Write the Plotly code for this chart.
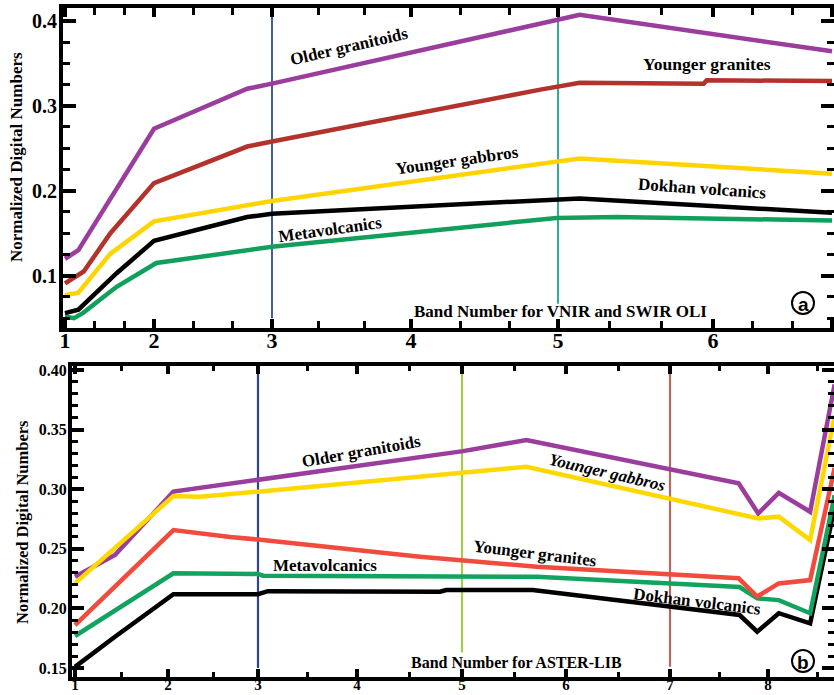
import numpy as np
import plotly.graph_objects as go

# ---------------- data: panel (a) Landsat OLI ----------------
band_ticks_a = [1, 2, 3, 4, 5, 6, 7]
band_tick_pos_a = [0.00, 0.89, 2.07, 3.46, 4.93, 6.48, 7.67]   # non-uniform band spacing on axis

older_granitoids_a_x = [1, 1.15, 2.0, 2.79, 3.0, 5.14, 7.0]
older_granitoids_a_y = [0.120, 0.130, 0.273, 0.320, 0.326, 0.407, 0.364]
younger_granites_a_x = [1, 1.21, 1.51, 2.0, 2.79, 3.0, 4.88, 5.14, 5.94, 5.96, 7.0]
younger_granites_a_y = [0.091, 0.105, 0.150, 0.209, 0.252, 0.258, 0.319, 0.327, 0.326, 0.330, 0.329]
younger_gabbros_a_x = [1, 1.15, 1.51, 2.0, 3.0, 4.99, 5.14, 7.0]
younger_gabbros_a_y = [0.077, 0.080, 0.126, 0.164, 0.188, 0.234, 0.238, 0.220]
dokhan_a_x = [1, 1.15, 1.58, 2.0, 2.79, 3.0, 5.14, 7.0]
dokhan_a_y = [0.056, 0.060, 0.103, 0.141, 0.169, 0.173, 0.191, 0.174]
metavolc_a_x = [1, 1.1, 1.2, 1.58, 2.02, 3.0, 4.99, 5.38, 7.0]
metavolc_a_y = [0.052, 0.050, 0.056, 0.087, 0.115, 0.134, 0.168, 0.169, 0.165]

# ---------------- data: panel (b) ASTER ----------------
band_ticks_b = [1, 2, 3, 4, 5, 6, 7, 8]
band_tick_pos_b = [0.00, 0.93, 1.83, 2.82, 3.87, 4.91, 5.95, 6.93]

older_granitoids_b_x = [1, 1.43, 2.06, 3.0, 5.01, 5.62, 7.70, 7.90, 8.11, 8.43, 8.68]
older_granitoids_b_y = [0.2266, 0.2448, 0.298, 0.3077, 0.332, 0.3413, 0.305, 0.2797, 0.297, 0.2811, 0.388]
younger_gabbros_b_x = [1, 2.06, 2.35, 3.0, 5.62, 7.90, 8.11, 8.43, 8.68]
younger_gabbros_b_y = [0.2211, 0.2943, 0.2937, 0.298, 0.3189, 0.2755, 0.277, 0.2574, 0.362]
younger_granites_b_x = [1, 2.06, 2.69, 3.0, 4.6, 5.0, 5.72, 7.70, 7.89, 8.11, 8.43, 8.68]
younger_granites_b_y = [0.1861, 0.2658, 0.260, 0.2578, 0.2434, 0.2406, 0.235, 0.2253, 0.210, 0.221, 0.2238, 0.318]
metavolc_b_x = [1, 2.06, 3.0, 3.05, 5.72, 7.71, 7.89, 8.11, 8.43, 8.68]
metavolc_b_y = [0.1769, 0.2295, 0.229, 0.2275, 0.2266, 0.218, 0.2085, 0.207, 0.196, 0.295]
dokhan_b_x = [1, 1.43, 2.06, 3.0, 3.1, 4.79, 4.85, 5.68, 7.71, 7.89, 8.11, 8.43, 8.68]
dokhan_b_y = [0.151, 0.1763, 0.212, 0.212, 0.2145, 0.214, 0.2155, 0.2155, 0.1945, 0.1805, 0.196, 0.1875, 0.285]

# vertical marker lines (band, y-from, y-to)
vlines_a = [(3, 0.050, 0.4067, "#2e4a9a"), (5, 0.067, 0.409, "#1fa383")]
vlines_b = [(3, 0.150, 0.398, "#2b4399"), (5, 0.163, 0.398, "#a5cc4b"), (7, 0.151, 0.398, "#b06a60")]

W, H = 834, 695
SERIF = "Liberation Serif, Times New Roman, serif"


def to_pos(bands, tb, tp):
    b = np.asarray(bands, float)
    p = np.interp(b, tb, tp)
    s_hi = (tp[-1] - tp[-2]) / (tb[-1] - tb[-2])
    s_lo = (tp[1] - tp[0]) / (tb[1] - tb[0])
    p = np.where(b > tb[-1], tp[-1] + (b - tb[-1]) * s_hi, p)
    p = np.where(b < tb[0], tp[0] + (b - tb[0]) * s_lo, p)
    return p


def pa(b):
    return to_pos(b, band_ticks_a, band_tick_pos_a)


def pb(b):
    return to_pos(b, band_ticks_b, band_tick_pos_b)


def px(x, y):
    return x / W, 1 - y / H


fig = go.Figure()

PURPLE = "#9a3d9c"
LW = 4.5
series_a = [
    (metavolc_a_x, metavolc_a_y, "#10a05c"),
    (dokhan_a_x, dokhan_a_y, "#000000"),
    (younger_gabbros_a_x, younger_gabbros_a_y, "#ffd400"),
    (younger_granites_a_x, younger_granites_a_y, "#b3322b"),
    (older_granitoids_a_x, older_granitoids_a_y, PURPLE),
]
for b, y0, y1, col in vlines_a:
    fig.add_trace(go.Scatter(x=pa([b, b]), y=[y0, y1], mode="lines",
                             line=dict(color=col, width=1.8), xaxis="x", yaxis="y",
                             showlegend=False, hoverinfo="skip"))
for xs, ys, col in series_a:
    fig.add_trace(go.Scatter(x=pa(xs), y=ys, mode="lines", line=dict(color=col, width=LW),
                             xaxis="x", yaxis="y", showlegend=False))

series_b = [
    (dokhan_b_x, dokhan_b_y, "#000000"),
    (metavolc_b_x, metavolc_b_y, "#12a35e"),
    (younger_granites_b_x, younger_granites_b_y, "#f24a3c"),
    (older_granitoids_b_x, older_granitoids_b_y, PURPLE),
    (younger_gabbros_b_x, younger_gabbros_b_y, "#ffd800"),
]
for b, y0, y1, col in vlines_b:
    fig.add_trace(go.Scatter(x=pb([b, b]), y=[y0, y1], mode="lines",
                             line=dict(color=col, width=2.2), xaxis="x2", yaxis="y2",
                             showlegend=False, hoverinfo="skip"))
for xs, ys, col in series_b:
    fig.add_trace(go.Scatter(x=pb(xs), y=ys, mode="lines", line=dict(color=col, width=LW),
                             xaxis="x2", yaxis="y2", showlegend=False))

# minor tick positions
minor_a = [k + f for k in range(1, 7) for f in (1 / 3, 2 / 3)]
minor_b = [k + 0.5 for k in range(1, 9)]

axis_common = dict(showline=True, linecolor="black", mirror="allticks", ticks="inside",
                   showgrid=False, zeroline=False, automargin=False, tickcolor="black")

fig.update_layout(
    width=W, height=H, autosize=False,
    margin=dict(l=0, r=0, t=0, b=0),
    paper_bgcolor="white", plot_bgcolor="white",
    xaxis=dict(domain=[63 / W, 1.0], anchor="y", range=[-0.02, 7.69],
               tickmode="array", tickvals=pa(band_ticks_a), ticktext=[str(t) for t in band_ticks_a],
               tickfont=dict(family=SERIF, size=22, color="black", weight="bold"),
               ticklen=9, tickwidth=4, linewidth=4, ticklabelstandoff=-10,
               minor=dict(tickmode="array", tickvals=pa(minor_a), ticks="inside",
                          ticklen=7, tickwidth=3, tickcolor="black"),
               **axis_common),
    yaxis=dict(domain=[1 - 328 / H, 1 - 8 / H], anchor="x", range=[0.0385, 0.415],
               tickmode="array", tickvals=[0.1, 0.2, 0.3, 0.4], ticktext=["0.1", "0.2", "0.3", "0.4"],
               tickfont=dict(family=SERIF, size=20, color="black", weight="bold"),
               ticklen=13, tickwidth=4, linewidth=4, ticklabelstandoff=-2,
               minor=dict(dtick=0.025, tick0=0, ticks="inside", ticklen=7, tickwidth=3,
                          tickcolor="black"),
               **axis_common),
    xaxis2=dict(domain=[72 / W, 1.0], anchor="y2", range=[-0.03, 7.59],
                tickmode="array", tickvals=pb(band_ticks_b), ticktext=[str(t) for t in band_ticks_b],
                tickfont=dict(family=SERIF, size=15, color="black", weight="bold"),
                ticklen=8, tickwidth=4, linewidth=4, ticklabelstandoff=-9,
                minor=dict(tickmode="array", tickvals=pb(minor_b), ticks="inside",
                           ticklen=5, tickwidth=3, tickcolor="black"),
                **axis_common),
    yaxis2=dict(domain=[1 - 677 / H, 1 - 366 / H], anchor="x2", range=[0.1425, 0.4034],
                tickmode="array", tickvals=[0.15, 0.20, 0.25, 0.30, 0.35, 0.40],
                ticktext=["0.15", "0.20", "0.25", "0.30", "0.35", "0.40"],
                tickfont=dict(family=SERIF, size=16, color="black", weight="bold"),
                ticklen=12, tickwidth=4, linewidth=4, ticklabelstandoff=-2,
                minor=dict(dtick=0.01, tick0=0, ticks="inside", ticklen=6, tickwidth=3,
                           tickcolor="black"),
                **axis_common),
)


def label(text, x, y, size=17, angle=0, italic=False):
    ax, ay = px(x, y)
    fig.add_annotation(x=ax, y=ay, xref="paper", yref="paper", text=text, showarrow=False,
                       textangle=angle, xanchor="center", yanchor="middle",
                       font=dict(family=SERIF, size=size, color="black", weight="bold",
                                 style="italic" if italic else "normal"))


# axis titles
label("Normalized Digital Numbers", 17, 157, size=17, angle=-90)
label("Normalized Digital Numbers", 22, 522, size=16.5, angle=-90)

# panel a labels
label("Older granitoids", 349, 47, angle=-13)
label("Younger granites", 707, 64, size=17.5)
label("Younger gabbros", 457, 160, angle=-8)
label("Dokhan volcanics", 702, 189, angle=4)
label("Metavolcanics", 330, 229, angle=-8)
label("Band Number for VNIR and SWIR OLI", 560, 311, size=17)

# panel b labels
label("Older granitoids", 361, 451, angle=-10)
label("Younger gabbros", 607, 472, angle=13, italic=True)
label("Younger granites", 535, 553, angle=7)
label("Metavolcanics", 325, 565)
label("Dokhan volcanics", 697, 601, angle=7)
label("Band Number for ASTER-LIB", 516, 662, size=16)

# circled panel letters
for letter, cx, cy in [("a", 803, 303), ("b", 803, 661)]:
    x0, y0 = px(cx - 11, cy - 11)
    x1, y1 = px(cx + 11, cy + 11)
    fig.add_shape(type="circle", xref="paper", yref="paper", x0=x0, x1=x1, y0=y1, y1=y0,
                  line=dict(color="black", width=2))
    ax, ay = px(cx, cy + 1)
    fig.add_annotation(x=ax, y=ay, xref="paper", yref="paper", text=letter, showarrow=False,
                       xanchor="center", yanchor="middle",
                       font=dict(family="Liberation Sans, Arial, sans-serif", size=19,
                                 color="black", weight="bold"))

fig.write_html("out.html", config={"displayModeBar": False},
               post_script="document.body.style.margin='0';document.body.style.padding='0';"
                           "document.body.style.overflow='hidden';")
